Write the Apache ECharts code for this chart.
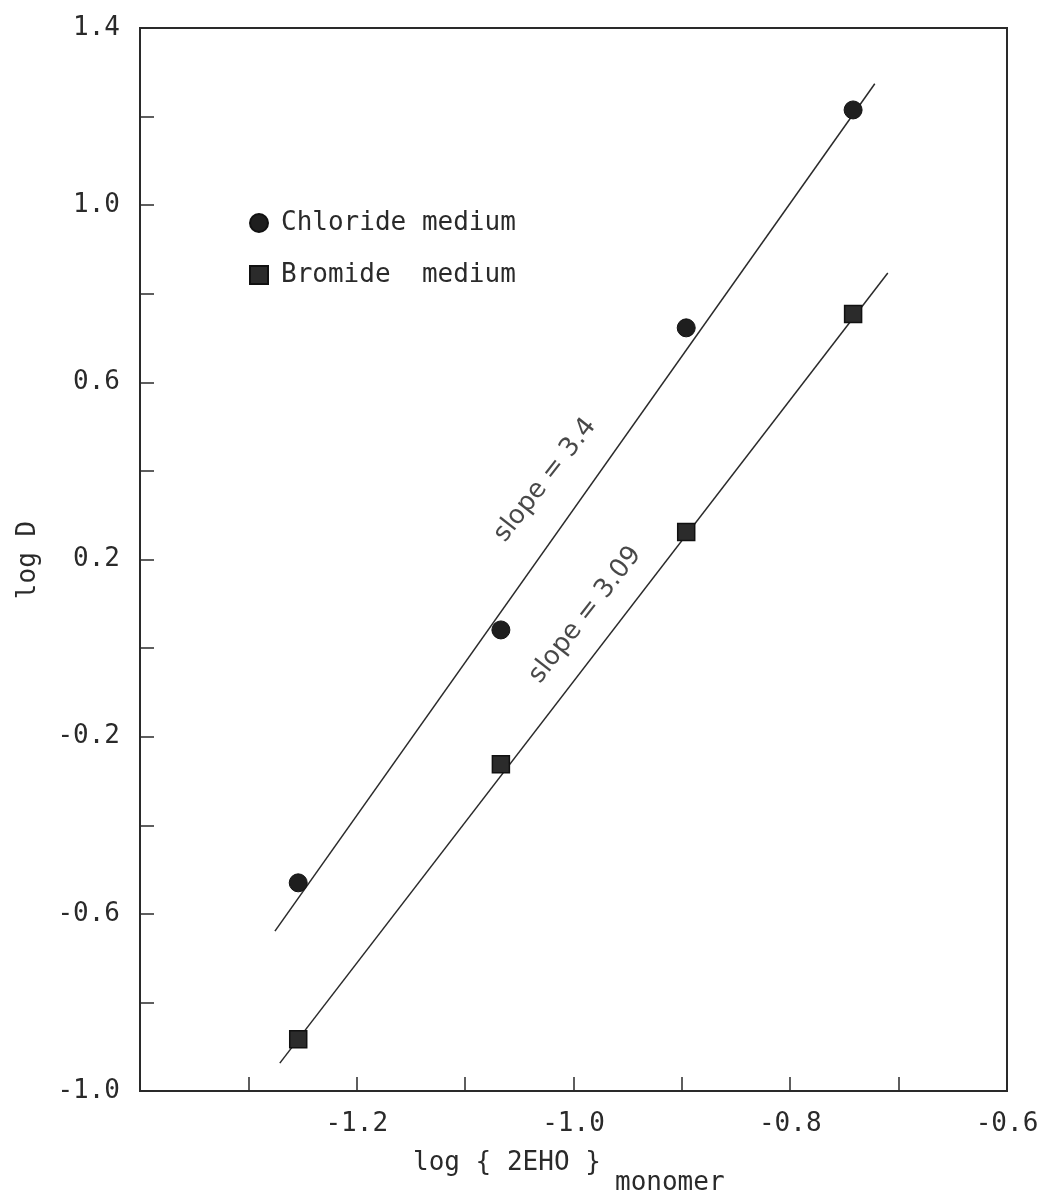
<!DOCTYPE html>
<html>
<head>
<meta charset="utf-8">
<script src="https://cdn.jsdelivr.net/npm/echarts@6/dist/echarts.min.js"></script>
<style>
  html, body { margin: 0; padding: 0; background: #fff; }
  #main { width: 1044px; height: 1201px; }
</style>
</head>
<body>
<div id="main"></div>
<script>
// values
const logEHO = [-1.254, -1.067, -0.896, -0.742]
const chlorideLogD = [-0.530, 0.041, 0.723, 1.215]
const bromideLogD = [-0.883, -0.262, 0.262, 0.754]

// fitted lines (end points)
const chlorideFitX = [-1.2755, -0.722]
const chlorideFitY = [-0.639, 1.274]
const bromideFitX = [-1.271, -0.710]
const bromideFitY = [-0.937, 0.847]

const slopeLabels = ['slope = 3.4', 'slope = 3.09']
const slopeLabelX = [-1.026, -0.989]
const slopeLabelY = [0.379, 0.075]

const xTickLabels = ['-1.2', '-1.0', '-0.8', '-0.6']
const yTickLabels = ['1.4', '1.0', '0.6', '0.2', '-0.2', '-0.6', '-1.0']

const seriesNames = ['Chloride medium', 'Bromide  medium']

const mono = '"DejaVu Sans Mono", monospace'
const ink = '#2a2a2a'

const zip = (xs, ys) => xs.map((x, i) => [x, ys[i]])

const chart = echarts.init(document.getElementById('main'))

const option = {
    backgroundColor: '#fff',
    animation: false,
    grid: {
        left: 140, right: 37, top: 28, bottom: 110,
        show: true,
        borderColor: ink,
        borderWidth: 2
    },
    legend: {
        orient: 'vertical',
        left: 244,
        top: 203,
        itemWidth: 18,
        itemHeight: 18,
        itemGap: 22,
        data: seriesNames,
        textStyle: { fontFamily: mono, fontSize: 26, color: ink, lineHeight: 30, padding: [0, 0, 0, 8] }
    },
    xAxis: {
        type: 'value',
        min: -1.4,
        max: -0.6,
        interval: 0.1,
        splitLine: { show: false },
        axisLine: { onZero: false, lineStyle: { color: ink, width: 2 } },
        axisTick: { inside: true, length: 14, lineStyle: { color: ink, width: 1.5 } },
        axisLabel: {
            margin: 20,
            fontFamily: mono,
            fontSize: 26,
            color: ink,
            formatter: v => {
                const s = v.toFixed(1)
                return xTickLabels.includes(s) ? s : ''
            }
        }
    },
    yAxis: {
        type: 'value',
        min: -1.0,
        max: 1.4,
        interval: 0.2,
        splitLine: { show: false },
        axisLine: { onZero: false, lineStyle: { color: ink, width: 2 } },
        axisTick: { inside: true, length: 14, lineStyle: { color: ink, width: 1.5 } },
        axisLabel: {
            margin: 20,
            fontFamily: mono,
            fontSize: 26,
            color: ink,
            formatter: v => {
                const s = v.toFixed(1)
                return yTickLabels.includes(s) ? s : ''
            }
        }
    },
    graphic: [
        {
            type: 'text',
            x: 28, y: 560,
            rotation: Math.PI / 2,
            style: {
                text: 'log D', fontFamily: mono, fontSize: 26, fill: ink,
                align: 'center', verticalAlign: 'middle'
            }
        },
        {
            type: 'text',
            x: 413, y: 1163,
            style: {
                text: 'log { 2EHO }', fontFamily: mono, fontSize: 26, fill: ink,
                align: 'left', verticalAlign: 'middle'
            }
        },
        {
            type: 'text',
            x: 615, y: 1183,
            style: {
                text: 'monomer', fontFamily: mono, fontSize: 26, fill: ink,
                align: 'left', verticalAlign: 'middle'
            }
        }
    ],
    series: [
        {
            name: 'chloride fit',
            type: 'line',
            data: zip(chlorideFitX, chlorideFitY),
            symbol: 'none',
            lineStyle: { color: ink, width: 1.5 },
            z: 2
        },
        {
            name: 'bromide fit',
            type: 'line',
            data: zip(bromideFitX, bromideFitY),
            symbol: 'none',
            lineStyle: { color: ink, width: 1.5 },
            z: 2
        },
        {
            name: seriesNames[0],
            type: 'scatter',
            data: zip(logEHO, chlorideLogD),
            symbol: 'circle',
            symbolSize: 18,
            itemStyle: { color: '#1e1e1e', borderColor: '#111', borderWidth: 1, opacity: 1 },
            z: 3
        },
        {
            name: seriesNames[1],
            type: 'scatter',
            data: zip(logEHO, bromideLogD),
            symbol: 'rect',
            symbolSize: 17,
            itemStyle: { color: '#2b2b2b', borderColor: '#111', borderWidth: 1.5, opacity: 1 },
            z: 3
        },
        {
            name: 'slopes',
            type: 'scatter',
            symbolSize: 0,
            silent: true,
            data: slopeLabels.map((t, i) => ({ value: [slopeLabelX[i], slopeLabelY[i]], name: t })),
            label: {
                show: true,
                position: 'inside',
                rotate: 52,
                formatter: p => p.name,
                fontFamily: '"DejaVu Sans", sans-serif',
                fontSize: 26,
                color: '#1a1a1a'
            },
            z: 4
        }
    ]
}

chart.setOption(option)
</script>
</body>
</html>
